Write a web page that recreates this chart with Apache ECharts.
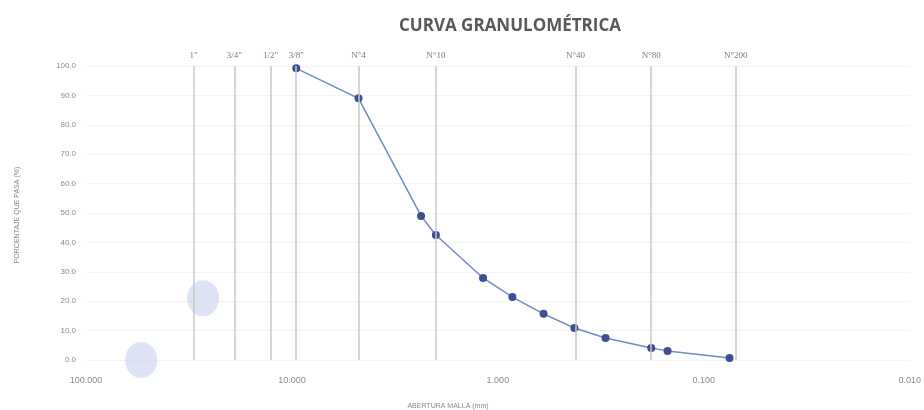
<!DOCTYPE html>
<html>
<head>
<meta charset="utf-8">
<script src="https://cdn.jsdelivr.net/npm/echarts@6/dist/echarts.min.js"></script>
<style>
  html, body { margin: 0; padding: 0; background: #fff; }
  #chart { width: 924px; height: 410px; }
</style>
</head>
<body>
<div id="chart"></div>
<script>
// Sieve analysis: opening (mm) vs. percent passing
const aperturas = [9.525, 4.75, 2.36, 2.0, 1.18, 0.85, 0.60, 0.425, 0.30, 0.18, 0.15, 0.075];
const pasa      = [99.2, 89.0, 49.0, 42.5, 27.9, 21.4, 15.7, 10.9, 7.5, 4.1, 3.1, 0.7];

// Reference sieves drawn as vertical lines
const tamicesNombre = ['1"', '3/4"', '1/2"', '3/8"', 'N°4', 'N°10', 'N°40', 'N°80', 'N°200'];
const tamicesAbertura = [30.0, 19.05, 12.7, 9.525, 4.75, 2.0, 0.425, 0.18, 0.075];

// Faint highlight bubbles
const burbujas = [[27.0, 21.0], [54.0, 0.0]];

const chart = echarts.init(document.getElementById('chart'));

const lineas = tamicesAbertura.map((v, i) => ({
  xAxis: v,
  label: { formatter: tamicesNombre[i] }
}));

chart.setOption({
  animation: false,
  backgroundColor: '#fff',
  title: {
    text: 'CURVA GRANULOMÉTRICA',
    left: 505,
    top: 13,
    textAlign: 'center',
    textStyle: { fontFamily: 'Open Sans', fontSize: 17, fontWeight: 'bold', color: '#595959' }
  },
  grid: { left: 86, right: 14, top: 66, bottom: 50 },
  xAxis: {
    type: 'log',
    logBase: 10,
    min: 0.01,
    max: 100,
    inverse: true,
    axisLine: { show: false },
    axisTick: { show: false },
    splitLine: { show: false },
    axisLabel: {
      fontFamily: 'Liberation Sans', fontSize: 9, color: '#8a8a8a', margin: 16,
      formatter: v => v.toFixed(3)
    }
  },
  yAxis: {
    type: 'value',
    min: 0,
    max: 100,
    interval: 10,
    axisLine: { show: false },
    axisTick: { show: false },
    splitLine: { lineStyle: { color: '#f3f3f3', width: 1 } },
    axisLabel: {
      fontFamily: 'Liberation Sans', fontSize: 8, color: '#8a8a8a', margin: 10,
      formatter: v => v.toFixed(1)
    }
  },
  graphic: [
    {
      type: 'text',
      x: 17, y: 215,
      rotation: Math.PI / 2,
      style: {
        text: 'PORCENTAJE QUE PASA (%)',
        fontFamily: 'Liberation Sans', fontSize: 7, fill: '#8a8a8a',
        textAlign: 'center', textVerticalAlign: 'middle'
      }
    },
    {
      type: 'text',
      x: 448, y: 406,
      style: {
        text: 'ABERTURA MALLA (mm)',
        fontFamily: 'Liberation Sans', fontSize: 7, fill: '#8a8a8a',
        textAlign: 'center', textVerticalAlign: 'middle'
      }
    }
  ],
  series: [
    {
      type: 'scatter',
      data: burbujas,
      symbolSize: [32, 36],
      itemStyle: { color: 'rgba(196, 206, 238, 0.7)' },
      z: 1
    },
    {
      type: 'line',
      data: aperturas.map((a, i) => [a, pasa[i]]),
      symbol: 'circle',
      symbolSize: 8,
      lineStyle: { color: '#6f8cc8', width: 1.5 },
      itemStyle: { color: '#3f4f8f' },
      z: 3,
      markLine: {
        silent: true,
        symbol: 'none',
        animation: false,
        lineStyle: { color: '#c8c8c8', width: 1.5, type: 'solid' },
        label: {
          position: 'end',
          distance: 6,
          fontFamily: 'Liberation Serif',
          fontSize: 9,
          color: '#7a7a7a'
        },
        data: lineas
      }
    }
  ]
});
</script>
</body>
</html>
